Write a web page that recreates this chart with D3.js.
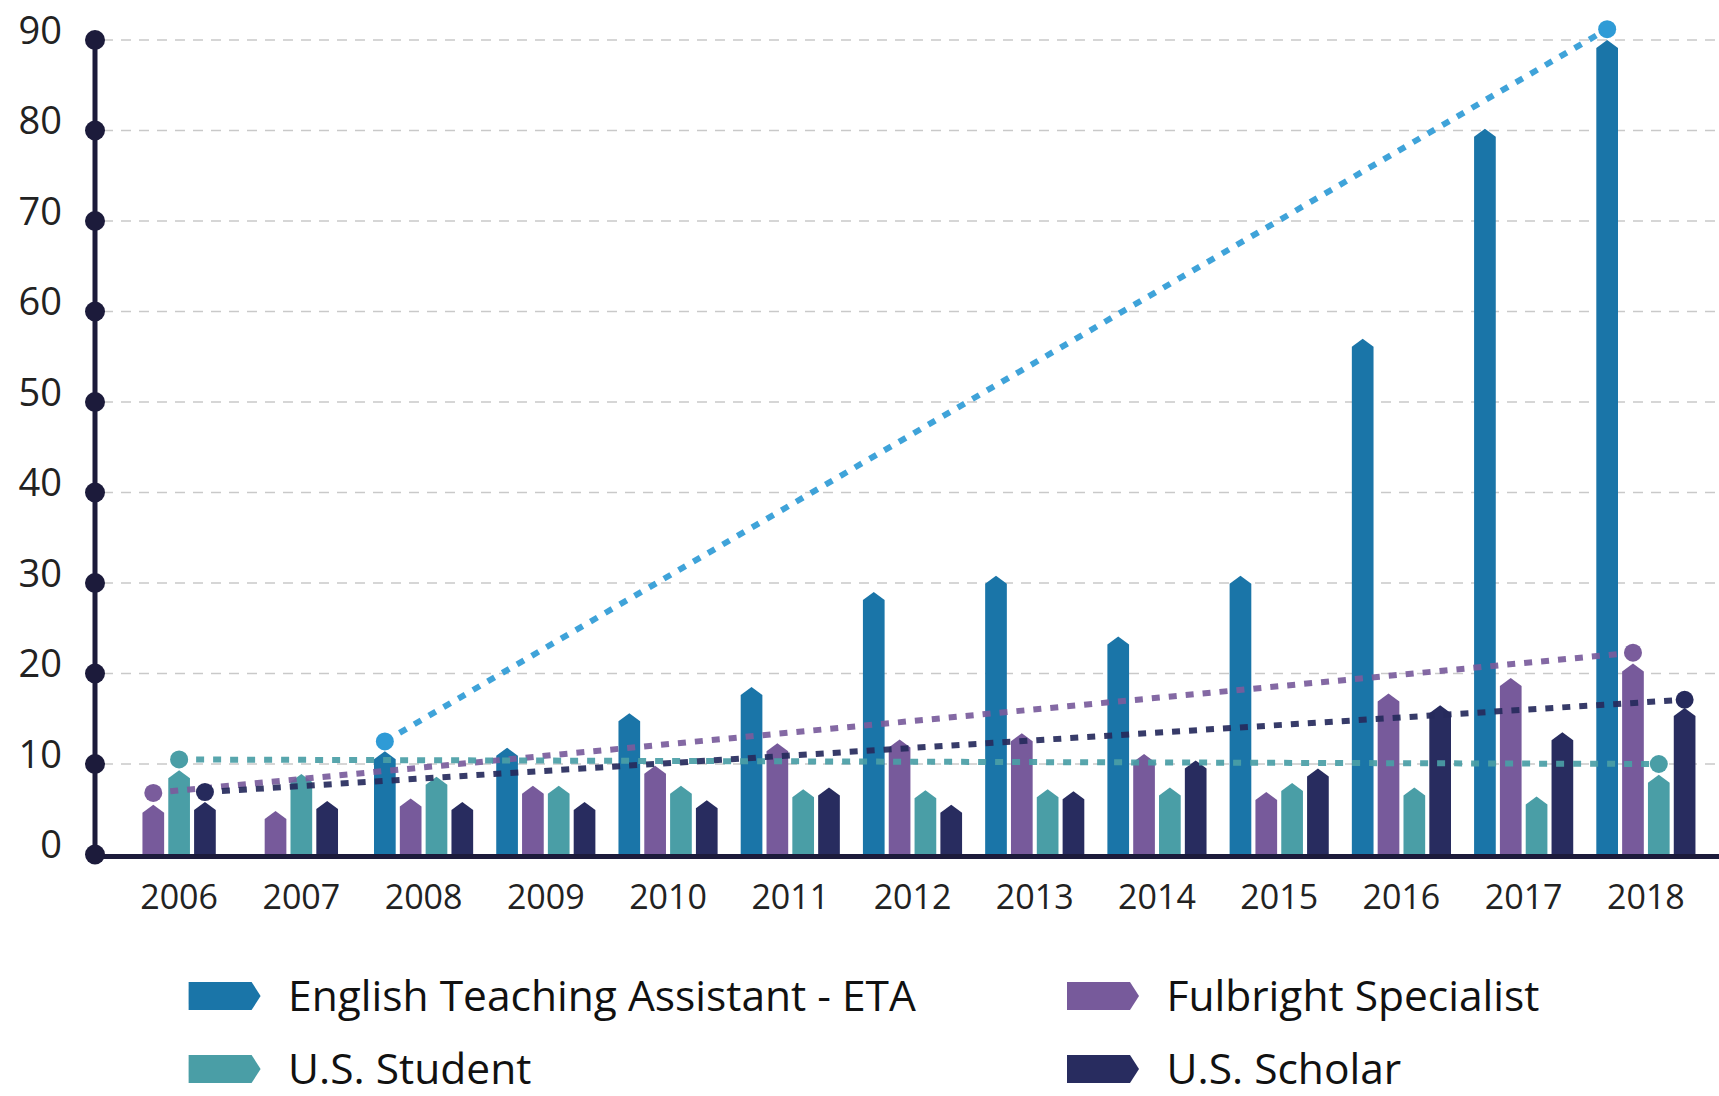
<!DOCTYPE html>
<meta charset="utf-8">
<title>Fulbright grants by year</title>
<style>
  body { margin: 0; background: #fff; }
  svg { display: block; font-family: "Open Sans", sans-serif; }
  .grid line { stroke: #c9c9c9; stroke-width: 1.5px; stroke-dasharray: 10 8; }
  .trend { fill: none; stroke-width: 6px; stroke-dasharray: 8 9; }
</style>
<body>
<svg width="1719" height="1096"></svg>
<script src="https://d3js.org/d3.v7.min.js"></script>
<script>
  // values, one entry per year
  var years = [2006, 2007, 2008, 2009, 2010, 2011, 2012, 2013, 2014, 2015, 2016, 2017, 2018];
  var eta       = [0, 0, 11.4, 11.8, 15.6, 18.5, 29, 30.8, 24.1, 30.8, 57, 80.2, 90];
  var fulbright = [5.5, 4.8, 6.2, 7.6, 9.8, 12.3, 12.7, 13.4, 11.1, 6.9, 17.8, 19.5, 21.1];
  var student   = [9.3, 8.9, 8.6, 7.6, 7.6, 7.2, 7.1, 7.2, 7.4, 7.9, 7.4, 6.4, 8.8];
  var scholar   = [5.8, 5.9, 5.8, 5.8, 6.0, 7.4, 5.5, 7.0, 10.4, 9.5, 16.5, 13.5, 16.2];

  // series keys, labels and colours
  var keys = ["eta", "fulbright", "student", "scholar"];
  var labels = ["English Teaching Assistant - ETA", "Fulbright Specialist", "U.S. Student", "U.S. Scholar"];
  var colors = ["#1a75a8", "#775a9b", "#4a9ea6", "#282c5f"];
  var trendColors = ["#2f9bd6", "#7a5c9c", "#4a9ea6", "#262a5c"];

  // linear trend lines: first year, start value, end value (2018)
  var trendFrom = [2008, 2006, 2006, 2006];
  var trendStart = [12.5, 6.8, 10.5, 6.9];
  var trendEnd = [91.2, 22.3, 10.0, 17.1];

  var yTicks = d3.range(0, 91, 10);

  var series = { eta: eta, fulbright: fulbright, student: student, scholar: scholar };
  var rows = years.map(function (yr, i) {
    var r = { year: yr };
    keys.forEach(function (k) { r[k] = series[k][i]; });
    return r;
  });

  var svg = d3.select("svg"),
    width = +svg.attr("width"),
    axisX = 95,
    baseY = 854.5;

  var y = d3.scaleLinear().domain([0, 90]).range([baseY, 40]);
  var x0 = d3.scaleBand().domain(years).range([118, 1707]).paddingInner(0.155).paddingOuter(0.0775);
  var pitch = x0.bandwidth() / keys.length;
  var barW = pitch * 0.84;

  // bars of a year are centred on the band, skipping empty series
  function barCenter(yr, k) {
    var r = rows[years.indexOf(yr)];
    var present = keys.filter(function (kk) { return r[kk] > 0; });
    var off = (x0.bandwidth() - present.length * pitch) / 2;
    return x0(yr) + off + present.indexOf(k) * pitch + pitch / 2;
  }

  // grid
  svg.append("g").attr("class", "grid")
    .selectAll("line")
    .data(yTicks.filter(function (d) { return d > 0; }))
    .enter().append("line")
    .attr("x1", axisX + 8).attr("x2", width)
    .attr("y1", function (d) { return y(d); })
    .attr("y2", function (d) { return y(d); });

  // bars with a pointed top
  function barPath(cx, v) {
    var x = cx - barW / 2, top = y(v), h = 8;
    return "M" + x + "," + baseY + "L" + x + "," + (top + h) + "L" + cx + "," + top +
      "L" + (x + barW) + "," + (top + h) + "L" + (x + barW) + "," + baseY + "Z";
  }

  var groups = svg.append("g").selectAll("g")
    .data(rows).enter().append("g");

  groups.selectAll("path")
    .data(function (r) {
      return keys.filter(function (k) { return r[k] > 0; })
        .map(function (k) { return { year: r.year, key: k, value: r[k] }; });
    })
    .enter().append("path")
    .attr("d", function (d) { return barPath(barCenter(d.year, d.key), d.value); })
    .attr("fill", function (d) { return colors[keys.indexOf(d.key)]; });

  // trend lines
  var trends = keys.map(function (k, i) {
    return [
      { x: barCenter(trendFrom[i], k), y: y(trendStart[i]) },
      { x: barCenter(2018, k), y: y(trendEnd[i]) }
    ];
  });
  var line = d3.line().x(function (d) { return d.x; }).y(function (d) { return d.y; });

  svg.append("g").selectAll("path")
    .data(trends).enter().append("path")
    .attr("class", "trend")
    .attr("d", line)
    .attr("stroke", function (d, i) { return trendColors[i]; })
    .attr("opacity", 0.92);

  var ends = [];
  trends.forEach(function (t, i) {
    t.forEach(function (p) { ends.push({ x: p.x, y: p.y, c: trendColors[i] }); });
  });
  svg.append("g").selectAll("circle")
    .data(ends).enter().append("circle")
    .attr("cx", function (d) { return d.x; })
    .attr("cy", function (d) { return d.y; })
    .attr("r", 9)
    .attr("fill", function (d) { return d.c; });

  // x axis
  svg.append("line")
    .attr("x1", axisX).attr("x2", width)
    .attr("y1", baseY + 2).attr("y2", baseY + 2)
    .attr("stroke", "#1c1b3b").attr("stroke-width", 5);

  var xAxis = svg.append("g")
    .attr("transform", "translate(0," + baseY + ")")
    .call(d3.axisBottom(x0).tickSize(0));
  xAxis.select(".domain").remove();
  xAxis.selectAll("text")
    .attr("y", 54).attr("dy", 0)
    .attr("font-size", 34)
    .attr("font-family", "'Open Sans', sans-serif")
    .attr("fill", "#222");

  // y axis: thick line with dots at each tick
  svg.append("line")
    .attr("x1", axisX).attr("x2", axisX)
    .attr("y1", y(90)).attr("y2", baseY)
    .attr("stroke", "#1c1b3b").attr("stroke-width", 5);
  svg.append("g").selectAll("circle")
    .data(yTicks).enter().append("circle")
    .attr("cx", axisX).attr("cy", function (d) { return y(d); })
    .attr("r", 10).attr("fill", "#1c1b3b");

  var yAxis = svg.append("g")
    .attr("transform", "translate(" + axisX + ",0)")
    .call(d3.axisLeft(y).tickValues(yTicks).tickSize(0).tickPadding(33));
  yAxis.select(".domain").remove();
  yAxis.selectAll("text")
    .attr("y", -9)
    .attr("font-size", 38)
    .attr("font-family", "'Open Sans', sans-serif")
    .attr("fill", "#222");

  // legend
  var legendX = [188.6, 1067, 188.6, 1067];
  var legendY = [996, 996, 1069, 1069];
  var legendOrder = [0, 1, 2, 3];
  var leg = svg.append("g").selectAll("g")
    .data(legendOrder).enter().append("g")
    .attr("transform", function (d) { return "translate(" + legendX[d] + "," + legendY[d] + ")"; });

  leg.append("path")
    .attr("d", "M0,-14L63,-14L72,0L63,14L0,14Z")
    .attr("fill", function (d) { return colors[d]; });
  leg.append("text")
    .attr("x", 99.5).attr("y", 15)
    .attr("font-size", 42.5)
    .attr("fill", "#111")
    .text(function (d) { return labels[d]; });
</script>
</body>
